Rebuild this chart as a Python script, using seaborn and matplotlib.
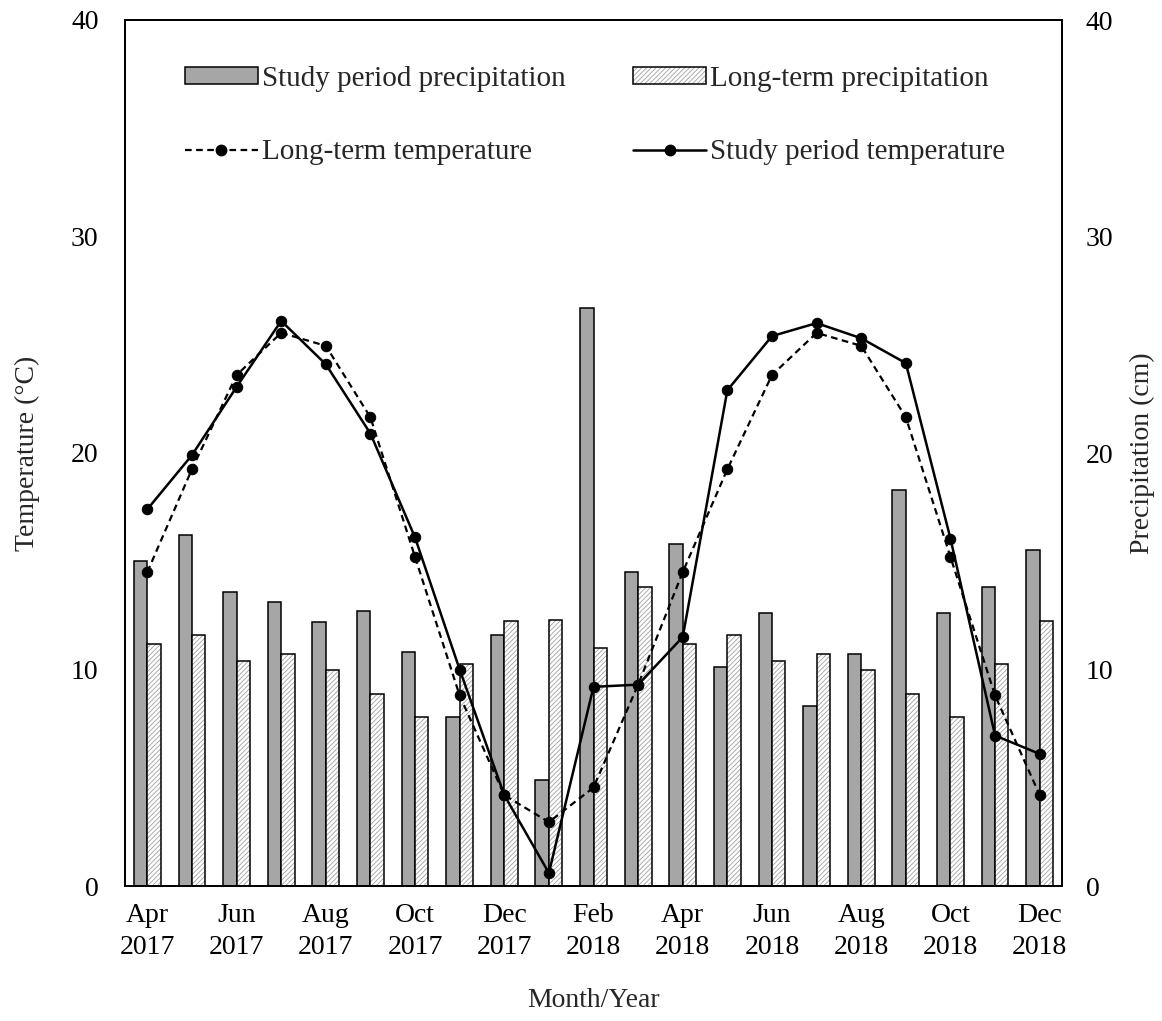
import numpy as np
import pandas as pd
import matplotlib
matplotlib.use("Agg")
import matplotlib.pyplot as plt
from matplotlib.patches import Patch, Rectangle
from matplotlib.lines import Line2D
import seaborn as sns

# ── data ──────────────────────────────────────────────────────────────
months = ["Apr 2017", "May 2017", "Jun 2017", "Jul 2017", "Aug 2017", "Sep 2017",
          "Oct 2017", "Nov 2017", "Dec 2017", "Jan 2018", "Feb 2018", "Mar 2018",
          "Apr 2018", "May 2018", "Jun 2018", "Jul 2018", "Aug 2018", "Sep 2018",
          "Oct 2018", "Nov 2018", "Dec 2018"]

study_precip = [15.0, 16.2, 13.6, 13.1, 12.2, 12.7, 10.8, 7.8, 11.6, 4.9, 26.7,
                14.5, 15.8, 10.1, 12.6, 8.3, 10.7, 18.3, 12.6, 13.8, 15.5]
longterm_precip = [11.2, 11.6, 10.4, 10.7, 10.0, 8.85, 7.8, 10.25, 12.25, 12.3, 11.0,
                   13.8, 11.2, 11.6, 10.4, 10.7, 10.0, 8.85, 7.8, 10.25, 12.25]
study_temp = [17.4, 19.9, 23.05, 26.1, 24.1, 20.9, 16.1, 10.0, 4.2, 0.6, 9.2,
              9.3, 11.5, 22.9, 25.4, 26.0, 25.3, 24.15, 16.05, 6.95, 6.1]
longterm_temp = [14.5, 19.25, 23.6, 25.55, 24.95, 21.65, 15.2, 8.8, 4.2, 2.95, 4.55,
                 9.3, 14.5, 19.25, 23.6, 25.55, 24.95, 21.65, 15.2, 8.8, 4.2]

tick_labels = ["Apr\n2017", "Jun\n2017", "Aug\n2017", "Oct\n2017", "Dec\n2017",
               "Feb\n2018", "Apr\n2018", "Jun\n2018", "Aug\n2018", "Oct\n2018",
               "Dec\n2018"]

SP = "Study period precipitation"
LP = "Long-term precipitation"

idx = np.arange(len(months))
df = pd.DataFrame({
    "idx": np.concatenate([idx, idx]),
    "precip": study_precip + longterm_precip,
    "series": [SP] * len(idx) + [LP] * len(idx),
})

# ── style ─────────────────────────────────────────────────────────────
sns.set_style("white")
plt.rcParams["font.family"] = ["Liberation Serif", "DejaVu Serif"]
plt.rcParams["hatch.linewidth"] = 0.6

GRAY = "#a6a6a6"
HATCH_C = "#a0a0a0"
DASH = (0, (3, 2))

fig = plt.figure(figsize=(11.62, 10.21), dpi=100)
ax = fig.add_axes([125 / 1162, 1 - 886 / 1021, 937 / 1162, 866 / 1021])
ax2 = ax.twinx()

sns.barplot(data=df, x="idx", y="precip", hue="series", hue_order=[SP, LP],
            palette={SP: GRAY, LP: "white"}, width=0.6, edgecolor="black",
            linewidth=1.1, ax=ax2, legend=False, errorbar=None)

# hatched long-term bars: gray hatch + black outline
for p in ax2.containers[1]:
    p.set_hatch("///////")
    p.set_edgecolor(HATCH_C)
    p.set_linewidth(0)
    ax2.add_patch(Rectangle((p.get_x(), p.get_y()), p.get_width(), p.get_height(),
                            fill=False, edgecolor="black", linewidth=1.1))

sns.lineplot(x=idx, y=longterm_temp, ax=ax, color="black", marker="o",
             markersize=7.5, linewidth=1.6, linestyle=DASH,
             markeredgecolor="black")
sns.lineplot(x=idx, y=study_temp, ax=ax, color="black", marker="o",
             markersize=7.5, linewidth=1.8, markeredgecolor="black")

ax.set_zorder(ax2.get_zorder() + 1)
ax.patch.set_visible(False)

for a in (ax, ax2):
    a.set_ylim(0, 40)
    a.set_yticks([0, 10, 20, 30, 40])
    a.tick_params(axis="both", length=0, labelsize=20, colors="black")
    for s in a.spines.values():
        s.set_color("black")
        s.set_linewidth(1.3)
ax.tick_params(axis="y", pad=19)
ax2.tick_params(axis="y", pad=17)
ax.tick_params(axis="x", pad=12)

ax.set_xlim(-0.5, len(months) - 0.5)
ax.set_xticks(idx[::2])
ax.set_xticklabels(tick_labels)
for t in ax.get_xticklabels():
    t.set_linespacing(1.4)

ax.set_ylabel("Temperature (\u00b0C)", fontsize=20, labelpad=22)
ax2.set_ylabel("Precipitation (cm)", fontsize=20, labelpad=12)
ax.set_xlabel("Month/Year", fontsize=20, labelpad=20)

handles = [
    Patch(facecolor=GRAY, edgecolor="black", linewidth=1.1),
    Line2D([], [], color="black", linestyle=DASH, linewidth=1.6,
           marker="o", markersize=7.5),
    (Patch(facecolor="white", edgecolor=HATCH_C, hatch="///////", linewidth=0),
     Patch(fill=False, edgecolor="black", linewidth=1.1)),
    Line2D([], [], color="black", linewidth=1.8, marker="o", markersize=7.5),
]
labels = [SP, "Long-term temperature", LP, "Study period temperature"]
ax.legend(handles, labels, ncol=2, loc="upper left", bbox_to_anchor=(0.064, 0.947),
          frameon=False, fontsize=21, handlelength=2.5, handleheight=0.55,
          handletextpad=0.15, columnspacing=2.3, labelspacing=1.62,
          borderpad=0, borderaxespad=0)

fig.savefig("out.png", dpi=100)
